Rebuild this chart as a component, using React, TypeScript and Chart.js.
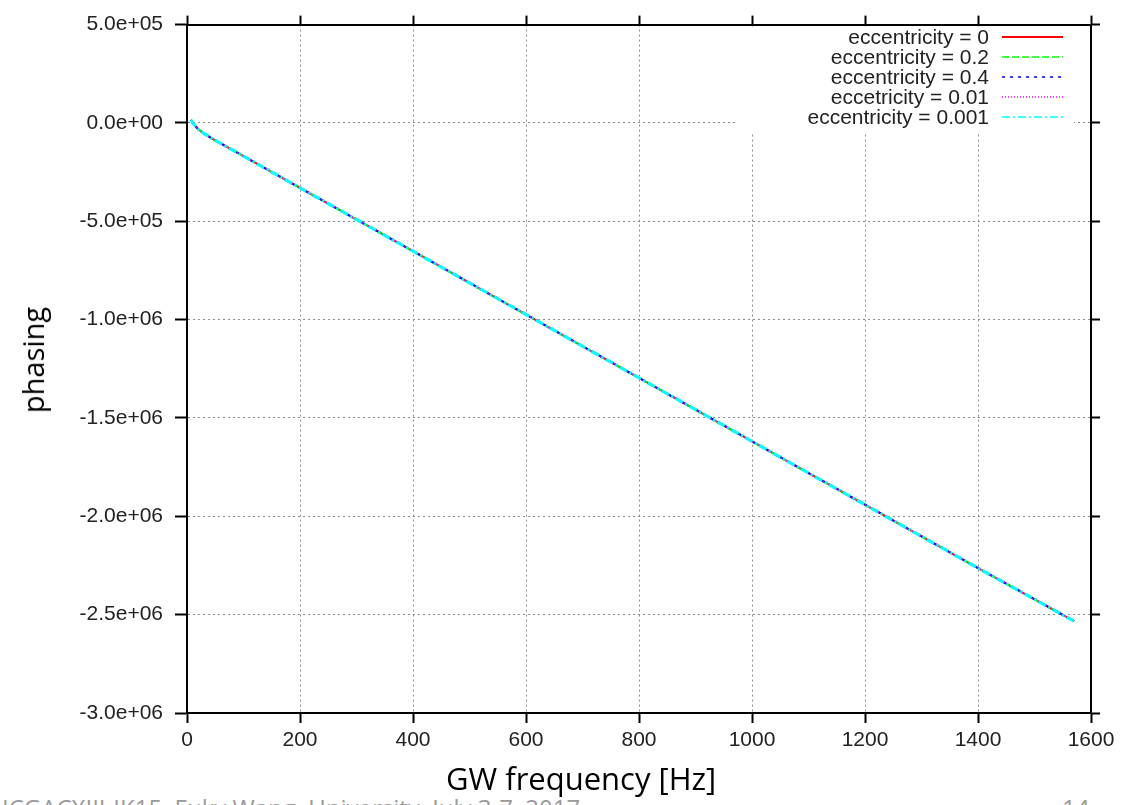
import React, { useEffect, useRef } from 'react';
import { Chart, registerables } from 'chart.js';

Chart.register(...registerables);

// GW frequency [Hz]
const frequencyHz = [7, 10, 14, 20, 30, 46, 100, 200, 400, 600, 800, 1000, 1200, 1400, 1570];

// phasing for each eccentricity (curves overlap in the picture)
const phasingE0 = [1.5e4, 0, -1.4e4, -3.2e4, -5.4e4, -8.2e4, -1.69e5, -3.3e5, -6.52e5, -9.74e5, -1.296e6, -1.619e6, -1.941e6, -2.263e6, -2.533e6];
const phasingE02 = [1.5e4, 0, -1.4e4, -3.2e4, -5.4e4, -8.2e4, -1.69e5, -3.3e5, -6.52e5, -9.74e5, -1.296e6, -1.619e6, -1.941e6, -2.263e6, -2.533e6];
const phasingE04 = [1.5e4, 0, -1.4e4, -3.2e4, -5.4e4, -8.2e4, -1.69e5, -3.3e5, -6.52e5, -9.74e5, -1.296e6, -1.619e6, -1.941e6, -2.263e6, -2.533e6];
const phasingE001 = [1.5e4, 0, -1.4e4, -3.2e4, -5.4e4, -8.2e4, -1.69e5, -3.3e5, -6.52e5, -9.74e5, -1.296e6, -1.619e6, -1.941e6, -2.263e6, -2.533e6];
const phasingE0001 = [1.5e4, 0, -1.4e4, -3.2e4, -5.4e4, -8.2e4, -1.69e5, -3.3e5, -6.52e5, -9.74e5, -1.296e6, -1.619e6, -1.941e6, -2.263e6, -2.533e6];

const seriesLabels = [
  'eccentricity = 0',
  'eccentricity = 0.2',
  'eccentricity = 0.4',
  'eccetricity = 0.01',
  'eccentricity = 0.001',
];
const seriesValues = [phasingE0, phasingE02, phasingE04, phasingE001, phasingE0001];
const seriesColors = ['#ff0000', '#00ff00', '#0000ff', '#ff00ff', '#00ffff'];
const seriesDashes = [[], [7, 3], [3, 5], [1, 2], [8, 3, 2, 3]];
const seriesWidths = [2, 2, 2, 2, 3.2];

const xTickValues = [0, 200, 400, 600, 800, 1000, 1200, 1400, 1600];
const xTickLabels = ['0', '200', '400', '600', '800', '1000', '1200', '1400', '1600'];
const yTickValues = [5e5, 0, -5e5, -1e6, -1.5e6, -2e6, -2.5e6, -3e6];
const yTickLabels = ['5.0e+05', '0.0e+00', '-5.0e+05', '-1.0e+06', '-1.5e+06', '-2.0e+06', '-2.5e+06', '-3.0e+06'];

const xTitle = 'GW frequency [Hz]';
const yTitle = 'phasing';
const footerLeft = 'ICGACXIII-IK15, Fuky Wang, University, July 3-7, 2017';
const footerRight = '14';

const TICK_FONT = { family: "'Liberation Sans', Arial, sans-serif", size: 21 };

const legendPlugin = {
  id: 'gnuplotLegend',
  afterDraw(chart: any) {
    const ctx = chart.ctx;
    ctx.save();
    ctx.fillStyle = '#ffffff';
    ctx.fillRect(736, 28, 338, 104);
    ctx.font = "21px 'Liberation Sans', Arial, sans-serif";
    ctx.textAlign = 'right';
    ctx.textBaseline = 'middle';
    chart.data.datasets.forEach((ds: any, i: number) => {
      const y = 37 + i * 20;
      ctx.fillStyle = '#222';
      ctx.fillText(ds.label, 989, y + 1);
      ctx.beginPath();
      ctx.setLineDash(ds.borderDash || []);
      ctx.strokeStyle = ds.borderColor;
      ctx.lineWidth = i === 0 ? 2 : 1.6;
      ctx.moveTo(1002, y);
      ctx.lineTo(1063, y);
      ctx.stroke();
    });
    ctx.restore();
  },
};

const labelFrom = (values: number[], labels: string[]) => (v: any) => {
  const idx = values.indexOf(Number(v));
  return idx >= 0 ? labels[idx] : '';
};

export default function App() {
  const canvasRef = useRef<HTMLCanvasElement | null>(null);

  useEffect(() => {
    const canvas = canvasRef.current;
    if (!canvas) return;
    const datasets = seriesLabels.map((label, i) => ({
      label,
      data: frequencyHz.map((f, j) => ({ x: f, y: seriesValues[i][j] })),
      borderColor: seriesColors[i],
      backgroundColor: seriesColors[i],
      borderDash: seriesDashes[i],
      borderWidth: seriesWidths[i],
      pointRadius: 0,
      fill: false,
      tension: 0,
      order: seriesLabels.length - i,
    }));

    const gridCommon = {
      color: '#8c8c8c',
      lineWidth: 1,
      tickColor: '#000',
      tickWidth: 2,
      tickBorderDash: [],
    };

    const chart = new Chart(canvas, {
      type: 'line',
      data: { datasets },
      plugins: [legendPlugin],
      options: {
        animation: false,
        responsive: false,
        maintainAspectRatio: false,
        layout: { padding: { left: 0, right: 29, top: 8, bottom: 0 } },
        plugins: { legend: { display: false }, tooltip: { enabled: false } },
        scales: {
          x: {
            type: 'linear',
            position: 'bottom',
            min: 0,
            max: 1600,
            afterBuildTicks: (s: any) => { s.ticks = xTickValues.map((v) => ({ value: v })); },
            ticks: { font: TICK_FONT, color: '#222', padding: 5, maxRotation: 0, callback: labelFrom(xTickValues, xTickLabels) },
            grid: { ...gridCommon, tickLength: 10 },
            border: { display: true, color: '#000', width: 2, dash: [2, 3] },
            afterFit: (s: any) => { s.height = 92; },
          },
          x2: {
            type: 'linear',
            position: 'top',
            min: 0,
            max: 1600,
            afterBuildTicks: (s: any) => { s.ticks = xTickValues.map((v) => ({ value: v })); },
            ticks: { display: false },
            grid: { ...gridCommon, drawOnChartArea: false, tickLength: 9 },
            border: { display: true, color: '#000', width: 2 },
            afterFit: (s: any) => { s.height = 10; },
          },
          y: {
            type: 'linear',
            position: 'left',
            min: -3e6,
            max: 5e5,
            afterBuildTicks: (s: any) => { s.ticks = yTickValues.map((v) => ({ value: v })); },
            ticks: { font: TICK_FONT, color: '#222', padding: 12, callback: labelFrom(yTickValues, yTickLabels) },
            grid: { ...gridCommon, tickLength: 12 },
            border: { display: true, color: '#000', width: 2, dash: [2, 3] },
            afterFit: (s: any) => { s.width = 187; },
          },
          y2: {
            type: 'linear',
            position: 'right',
            min: -3e6,
            max: 5e5,
            afterBuildTicks: (s: any) => { s.ticks = yTickValues.map((v) => ({ value: v })); },
            ticks: { display: false },
            grid: { ...gridCommon, drawOnChartArea: false, tickLength: 9 },
            border: { display: true, color: '#000', width: 2 },
            afterFit: (s: any) => { s.width = 10; },
          },
        },
      },
    } as any);

    return () => chart.destroy();
  }, []);

  return (
    <div style={{ position: 'absolute', left: 0, top: 0, width: 1130, height: 805, overflow: 'hidden', background: '#fff' }}>
      <div
        style={{
          position: 'absolute',
          left: 2,
          top: 793,
          fontFamily: "'Open Sans', sans-serif",
          fontSize: 24,
          color: '#9a9a9a',
          whiteSpace: 'nowrap',
          lineHeight: '30px',
        }}
      >
        {footerLeft}
      </div>
      <div
        style={{
          position: 'absolute',
          left: 1062,
          top: 793,
          fontFamily: "'Open Sans', sans-serif",
          fontSize: 24,
          color: '#9a9a9a',
          lineHeight: '30px',
        }}
      >
        {footerRight}
      </div>
      <canvas ref={canvasRef} width={1130} height={805} style={{ position: 'absolute', left: 0, top: 0, display: 'block' }} />
      <div
        style={{
          position: 'absolute',
          left: 446,
          top: 758,
          fontFamily: "'Open Sans', sans-serif",
          fontSize: 31,
          color: '#000',
          whiteSpace: 'nowrap',
          lineHeight: '40px',
        }}
      >
        {xTitle}
      </div>
      <div
        style={{
          position: 'absolute',
          left: 33,
          top: 360,
          width: 0,
          height: 0,
        }}
      >
        <div
          style={{
            position: 'absolute',
            left: 0,
            top: 0,
            transform: 'translate(-50%, -50%) rotate(-90deg)',
            fontFamily: "'Open Sans', sans-serif",
            fontSize: 29,
            color: '#000',
            whiteSpace: 'nowrap',
            lineHeight: '36px',
          }}
        >
          {yTitle}
        </div>
      </div>
    </div>
  );
}
